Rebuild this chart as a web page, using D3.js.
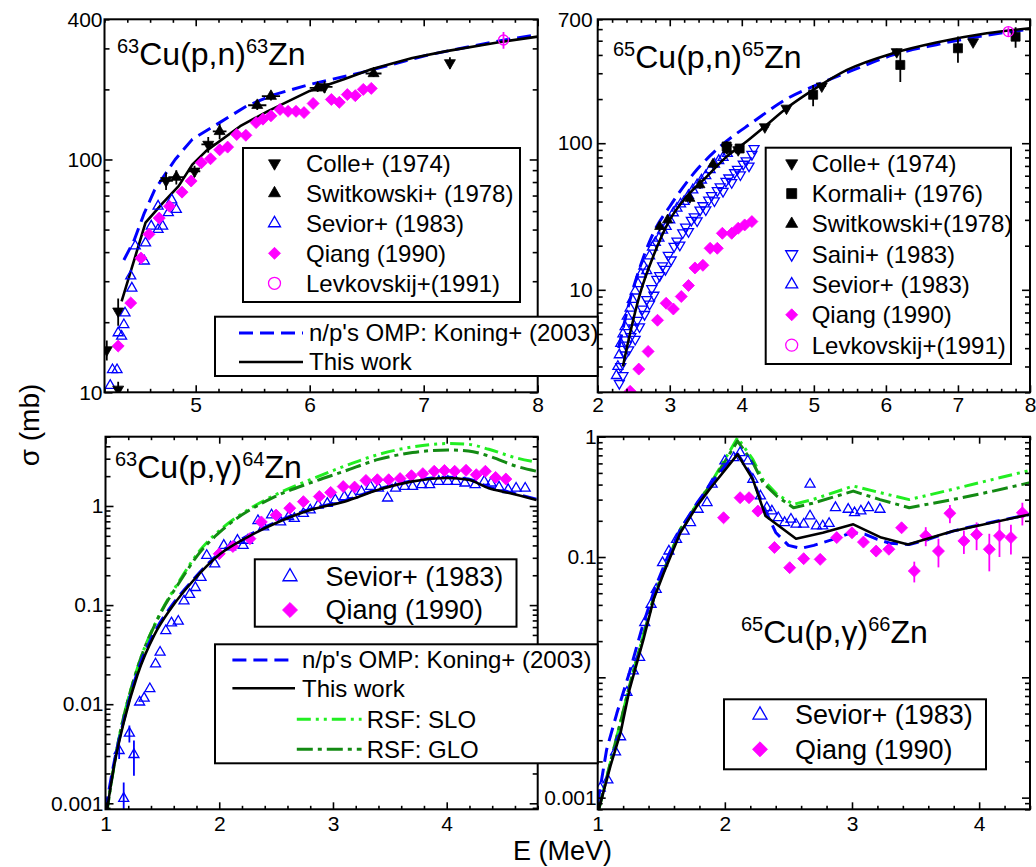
<!DOCTYPE html>
<html>
<head>
<meta charset="utf-8">
<script src="https://cdn.jsdelivr.net/npm/d3@7"></script>
<style>
  body { margin: 0; background: #fff; }
  svg { display: block; }
</style>
</head>
<body>
<div id="chart"></div>
<script>
// ---------- data: 63Cu(p,n)63Zn  [E (MeV), sigma (mb), dE, dSigma] ----------
const pn63ThisWork = [[4.35,24.6],[4.56,53.5],[4.71,65],[4.85,76.8],[4.97,95],[5.09,108.6],[5.39,139],[5.63,161],[6.0,197],[6.3,221],[6.54,244],[6.9,273],[7.2,292],[7.66,319],[8.0,337]];
const pn63Koning = [[4.37,37],[4.46,45],[4.55,59],[4.64,74],[4.82,100],[4.97,122],[5.21,144],[5.45,170],[5.69,190],[6.0,210],[6.45,236],[7.05,282],[7.66,323],[8.0,344]];
const pn63Colle = [[4.22,15.2,0.03,1.5],[4.32,22.3,0.03,3],[4.32,10.3,0.03,0.8],[4.74,81,0.06,7],[4.99,89,0.05,5],[5.11,116,0.06,9],[6.13,205,0.07,12],[7.23,260,0.02,15]];
const pn63Switkowski = [[4.83,84,0.07,6],[5.21,132,0.06,10],[5.54,171,0.08,8],[5.66,187,0.08,8],[6.07,203,0.07,8],[6.56,234,0.07,8]];
const pn63Sevior = [[4.25,10.7],[4.27,12.5],[4.31,12.5],[4.32,18],[4.35,17.4],[4.37,19.5],[4.38,21.9],[4.43,31.6],[4.44,28],[4.47,42.5],[4.55,36.6],[4.56,43.8],[4.61,51.7],[4.67,50],[4.67,63],[4.71,51.7],[4.76,59],[4.79,67],[4.83,61]];
const pn63Qiang = [[4.32,15.8],[4.43,24.2],[4.52,37.7],[4.59,47.7],[4.68,56],[4.77,63],[4.88,72.4],[4.96,80.8],[5.05,96.8],[5.13,100.7],[5.21,110],[5.28,113],[5.36,128],[5.44,127],[5.53,144],[5.59,149],[5.66,154],[5.74,164],[5.81,161],[5.88,161],[5.95,159],[6.03,174],[6.19,181],[6.26,176],[6.33,190],[6.40,188],[6.47,200],[6.54,202]];
const pn63Levkovskij = [[7.70,326,0,27]];

// ---------- data: 65Cu(p,n)65Zn ----------
const pn65ThisWork = [[2.35,3.0],[2.45,5.07],[2.59,9.5],[2.77,16.9],[3.0,30],[3.23,43],[3.51,59],[3.79,81],[4.07,103],[4.32,130],[4.62,173],[4.99,231],[5.46,316],[6.10,411],[6.70,486],[7.40,562],[8.0,608]];
const pn65Koning = [[2.29,4.0],[2.45,8.6],[2.59,14.4],[2.77,24.3],[3.0,37],[3.33,62],[3.70,95],[4.16,140],[4.62,200],[5.09,256],[5.55,316],[6.1,400],[6.7,470],[7.4,545],[8.0,600]];
const pn65Colle = [[3.79,93,0.03,8],[3.95,90,0.03,6],[4.32,129,0.05,6],[4.62,173,0.05,8],[5.11,245,0.06,12],[6.15,420,0.06,20],[7.21,490,0.03,25]];
const pn65Kormali = [[3.79,95,0,8],[3.97,92,0,6],[4.99,214,0.03,35],[6.20,342,0,80],[7.0,444,0,90],[7.80,533,0,85]];
const pn65Switkowski = [[2.86,27,0,2],[2.97,30,0,2],[3.28,42,0,3],[3.42,52,0,3],[3.60,72,0,4],[3.80,90,0,5]];
const pn65Saini = [[2.30,2.3],[2.32,3.0],[2.35,2.6],[2.38,3.6],[2.40,4.2],[2.43,3.9],[2.46,4.8],[2.50,5.5],[2.52,4.6],[2.55,6.2],[2.58,5.6],[2.62,7.4],[2.65,6.8],[2.68,8.6],[2.72,8.0],[2.75,10.2],[2.78,9.2],[2.82,11.8],[2.86,12.5],[2.90,14.6],[2.94,13.8],[2.98,17.2],[3.02,16.0],[3.06,19.8],[3.10,21.5],[3.14,20.2],[3.18,24.5],[3.22,26.8],[3.26,25.0],[3.30,29.8],[3.34,31.5],[3.38,29.6],[3.42,35.0],[3.46,37.5],[3.50,35.2],[3.54,41.0],[3.58,44.0],[3.62,40.5],[3.66,47.5],[3.70,50.5],[3.74,47.0],[3.78,55.0],[3.82,58.0],[3.86,54.0],[3.90,63.0],[3.94,66.5],[3.98,61.0],[4.02,72.0],[4.06,76.0],[4.10,70.0],[4.14,84.0],[4.17,92.0]];
const pn65Sevior = [[2.26,2.6],[2.28,3.0],[2.30,3.6],[2.32,4.3],[2.35,5.0],[2.38,5.6],[2.41,6.6],[2.45,7.5],[2.48,8.6],[2.52,9.8],[2.56,11.0],[2.60,12.8],[2.64,14.5],[2.68,13.5],[2.72,17.0],[2.76,19.5],[2.80,21.0],[2.85,22.5],[2.90,25.5],[2.95,27.0],[3.00,30.0],[3.05,33.5],[3.10,36.0],[3.15,38.5],[3.20,40.0],[3.26,44.0],[3.32,48.0],[3.38,52.0],[3.44,56.0],[3.50,60.0],[3.56,66.0],[3.62,72.0],[3.68,76.0],[3.74,80.0],[3.80,85.0]];
const pn65Qiang = [[2.45,2.03],[2.57,2.88],[2.70,3.8],[2.83,6.2],[2.95,8.1],[3.05,7.4],[3.16,9.0],[3.26,10.7],[3.35,14.1],[3.46,14.7],[3.56,19.2],[3.66,19.2],[3.73,24.3],[3.86,24.3],[3.95,26.3],[4.04,27.7],[4.14,29.2]];
const pn65Levkovskij = [[7.70,577,0,40]];

// ---------- data: 63Cu(p,g)64Zn ----------
const pg63ThisWork = [[1.01,0.0008],[1.07,0.0022],[1.16,0.0065],[1.28,0.0196],[1.43,0.05],[1.58,0.094],[1.77,0.176],[2.01,0.329],[2.25,0.486],[2.49,0.665],[2.80,0.91],[3.10,1.106],[3.40,1.456],[3.70,1.77],[4.01,1.915],[4.19,1.84],[4.37,1.51],[4.55,1.35],[4.79,1.15]];
const pg63Koning = [[1.0,0.00085],[1.07,0.0024],[1.16,0.0068],[1.28,0.021],[1.43,0.053],[1.58,0.098],[1.77,0.18],[2.01,0.34],[2.25,0.5],[2.49,0.68],[2.80,0.93],[3.10,1.13],[3.40,1.48],[3.70,1.8],[4.01,1.95],[4.19,1.87],[4.37,1.55],[4.55,1.38],[4.79,1.17]];
const pg63Slo = [[1.01,0.0008],[1.10,0.0035],[1.28,0.023],[1.46,0.074],[1.65,0.176],[1.83,0.356],[2.04,0.615],[2.25,0.91],[2.49,1.29],[2.80,1.84],[3.10,2.52],[3.40,3.31],[3.70,3.94],[4.01,4.26],[4.19,4.19],[4.37,3.73],[4.61,3.06],[4.79,2.77]];
const pg63Glo = [[1.01,0.0008],[1.10,0.0035],[1.28,0.023],[1.46,0.073],[1.65,0.17],[1.83,0.34],[2.04,0.59],[2.49,1.24],[2.80,1.71],[3.10,2.24],[3.40,2.95],[3.70,3.46],[4.01,3.67],[4.19,3.59],[4.37,3.19],[4.61,2.52],[4.79,2.24]];
const pg63Sevior = [[1.12,0.0034,0,0.0006],[1.16,0.00112,0,0.0005],[1.21,0.0051,0,0.001],[1.25,0.0031,0,0.0012],[1.30,0.0105],[1.34,0.0115],[1.39,0.0143],[1.44,0.0254],[1.48,0.0334],[1.53,0.055],[1.58,0.066],[1.64,0.0687],[1.69,0.11],[1.74,0.128],[1.79,0.15],[1.84,0.19],[1.89,0.316],[1.96,0.26],[2.04,0.4],[2.10,0.385],[2.16,0.45],[2.21,0.4],[2.25,0.45],[2.34,0.71],[2.39,0.615],[2.46,0.81],[2.54,0.69],[2.61,0.78],[2.66,0.748],[2.74,0.84],[2.80,0.91],[2.87,1.02],[2.95,1.06],[3.02,1.15],[3.10,1.24],[3.17,1.29],[3.25,1.40],[3.33,1.57],[3.40,1.51],[3.48,1.2],[3.55,1.51],[3.63,1.57],[3.70,1.57],[3.78,1.64],[3.85,1.64],[3.93,1.77],[4.01,1.77],[4.08,1.77],[4.16,1.70],[4.25,1.64],[4.33,1.77],[4.39,1.70],[4.46,1.55],[4.54,1.46],[4.61,1.51],[4.69,1.51]];
const pg63Qiang = [[2.0,0.329],[2.12,0.39],[2.27,0.468],[2.37,0.69],[2.50,0.81],[2.62,0.95],[2.74,1.106],[2.88,1.245],[2.98,1.37],[3.09,1.57],[3.19,1.55],[3.29,1.81],[3.39,1.84],[3.49,1.84],[3.59,1.89],[3.69,2.02],[3.79,2.12],[3.89,2.24],[3.98,2.28],[4.07,2.24],[4.17,2.29],[4.26,2.07],[4.34,2.24],[4.43,1.94],[4.52,1.87]];

// ---------- data: 65Cu(p,g)66Zn ----------
const pg65ThisWork = [[1.01,0.00081],[1.10,0.00183],[1.18,0.00347],[1.25,0.0079],[1.36,0.0207],[1.44,0.0445],[1.52,0.074],[1.65,0.159],[1.78,0.265],[1.90,0.389],[2.10,0.713],[2.22,0.442],[2.32,0.219],[2.56,0.142],[2.77,0.159],[3.01,0.187],[3.23,0.145],[3.44,0.127],[3.79,0.164],[4.40,0.226]];
const pg65Koning = [[1.0,0.0009],[1.07,0.0025],[1.15,0.005],[1.25,0.011],[1.35,0.026],[1.45,0.055],[1.55,0.1],[1.65,0.17],[1.78,0.28],[1.90,0.42],[2.05,0.66],[2.10,0.72],[2.20,0.5],[2.30,0.27],[2.40,0.16],[2.50,0.125],[2.60,0.118],[2.70,0.125],[2.85,0.14],[3.0,0.16],[3.1,0.155],[3.2,0.14],[3.3,0.13],[3.45,0.127],[3.6,0.14],[3.8,0.165],[4.0,0.185],[4.2,0.205],[4.4,0.226]];
const pg65Slo = [[1.01,0.00081],[1.25,0.0085],[1.45,0.05],[1.65,0.17],[1.90,0.428],[2.10,0.98],[2.22,0.648],[2.30,0.44],[2.41,0.332],[2.54,0.274],[2.69,0.3],[3.01,0.389],[3.22,0.343],[3.45,0.3],[3.79,0.365],[4.11,0.442],[4.40,0.525]];
const pg65Glo = [[1.01,0.00081],[1.25,0.0085],[1.45,0.05],[1.65,0.17],[1.90,0.42],[2.10,0.92],[2.22,0.61],[2.30,0.415],[2.41,0.32],[2.54,0.257],[2.69,0.28],[3.01,0.353],[3.22,0.3],[3.45,0.257],[3.79,0.3],[4.11,0.353],[4.40,0.415]];
const pg65Sevior = [[1.02,0.0012],[1.08,0.0014],[1.14,0.0024],[1.18,0.0032],[1.23,0.0075],[1.28,0.0113],[1.33,0.0146],[1.37,0.0285],[1.42,0.0404],[1.46,0.0538],[1.51,0.0897],[1.56,0.112],[1.62,0.14],[1.68,0.164],[1.73,0.193],[1.79,0.249],[1.86,0.283],[1.90,0.402],[2.0,0.628],[2.07,0.668],[2.12,0.736],[2.18,0.628],[2.22,0.442],[2.28,0.321],[2.33,0.257],[2.37,0.241],[2.42,0.212],[2.47,0.193],[2.52,0.206],[2.56,0.187],[2.62,0.187],[2.67,0.402],[2.67,0.219],[2.72,0.181],[2.77,0.181],[2.82,0.19],[2.87,0.257],[2.97,0.249],[3.02,0.233],[3.07,0.241],[3.13,0.257],[3.22,0.249]];
const pg65Qiang = [[1.99,0.212],[2.12,0.311],[2.19,0.311],[2.26,0.241],[2.39,0.12],[2.51,0.0815],[2.62,0.0969],[2.75,0.0956],[2.88,0.145],[3.0,0.159],[3.09,0.133],[3.19,0.112],[3.29,0.116],[3.39,0.175],[3.49,0.0765,0,0.015],[3.58,0.15,0,0.027],[3.68,0.112,0,0.03],[3.77,0.231,0,0.04],[3.88,0.136,0,0.03],[3.98,0.154,0,0.04],[4.08,0.116,0,0.04],[4.16,0.15,0,0.05],[4.25,0.145,0,0.04],[4.34,0.233,0,0.05]];

// ---------- labels ----------
const tlLegend1 = ["Colle+ (1974)", "Switkowski+ (1978)", "Sevior+ (1983)", "Qiang (1990)", "Levkovskij+(1991)"];
const trLegend = ["Colle+ (1974)", "Kormali+ (1976)", "Switkowski+(1978)", "Saini+ (1983)", "Sevior+ (1983)", "Qiang (1990)", "Levkovskij+(1991)"];
const expLegendBottom = ["Sevior+ (1983)", "Qiang (1990)"];
const modelLegend = ["n/p's OMP: Koning+ (2003)", "This work", "RSF: SLO", "RSF: GLO"];
const tlYLabels = [10, 100, 400];
const trYLabels = [10, 100, 700];
const blYLabels = [0.001, 0.01, 0.1, 1];
const brYLabels = [0.001, 0.1, 1];

// ---------- layout ----------
const WIDTH = 1036;
const HEIGHT = 867;
const FONT = "'Liberation Sans', Arial, sans-serif";

const PANELS = {
  tl: { id: "tl", left: 104.5, right: 537.7, top: 19.3, bottom: 392.3, xDomain: [4.2, 8], yDomain: [10, 400], yPad: 2, xPad: 5, curve: d3.curveLinear },
  tr: { id: "tr", left: 597.7, right: 1030, top: 19.3, bottom: 392.3, xDomain: [2, 8], yDomain: [2, 700], yPad: 5, xPad: 5, curve: d3.curveMonotoneX },
  bl: { id: "bl", left: 105.5, right: 537.7, top: 436.7, bottom: 809.3, xDomain: [1, 4.8], yDomain: [0.00087, 5], yPad: 2, xPad: 7, curve: d3.curveMonotoneX },
  br: { id: "br", left: 597.7, right: 1030, top: 436.7, bottom: 809.3, xDomain: [1, 4.4], yDomain: [0.0008, 1], yPad: 1, xPad: 7, curve: d3.curveLinear },
};

const STYLE = {
  colle: { shape: "triDown", fill: "#000", stroke: "#000" },
  switk: { shape: "triUp", fill: "#000", stroke: "#000" },
  kormali: { shape: "square", fill: "#000", stroke: "#000" },
  saini: { shape: "triDown", fill: "none", stroke: "#0000ff" },
  sevior: { shape: "triUp", fill: "none", stroke: "#0000ff" },
  qiang: { shape: "diamond", fill: "#ff00ff", stroke: "#ff00ff" },
  levk: { shape: "circle", fill: "none", stroke: "#ff00ff" },
};

const LINES = {
  thisWork: { color: "#000", width: 2.6, dash: null },
  koning: { color: "#0000ff", width: 3, dash: "14,7" },
  slo: { color: "#22ee22", width: 3, dash: "14,5,3,5,3,5" },
  glo: { color: "#138a13", width: 3, dash: "16,5,4,5" },
};

const svg = d3.select("#chart").append("svg")
  .attr("width", WIDTH)
  .attr("height", HEIGHT)
  .style("font-family", FONT);

function makePanel(cfg) {
  const x = d3.scaleLinear().domain(cfg.xDomain).range([cfg.left, cfg.right]);
  const y = d3.scaleLog().domain(cfg.yDomain).range([cfg.bottom, cfg.top]);
  const g = svg.append("g").attr("class", "panel-" + cfg.id);
  g.append("clipPath").attr("id", "clip-" + cfg.id)
    .append("rect")
    .attr("x", cfg.left).attr("y", cfg.top)
    .attr("width", cfg.right - cfg.left).attr("height", cfg.bottom - cfg.top);
  const plot = g.append("g").attr("clip-path", `url(#clip-${cfg.id})`);
  return { cfg, x, y, g, plot };
}

function markerPath(shape, s) {
  if (shape === "triUp" || shape === "triDown") return d3.symbol(d3.symbolTriangle, (s * s * Math.sqrt(3)) / 4)();
  if (shape === "square") return d3.symbol(d3.symbolSquare, s * s)();
  if (shape === "diamond") return d3.symbol(d3.symbolSquare, (s * s) / 2)();
  return d3.symbol(d3.symbolCircle, (Math.PI * s * s) / 4)();
}

function markerRotation(shape) {
  if (shape === "triDown") return 180;
  if (shape === "diamond") return 45;
  return 0;
}

function drawCurve(p, data, key) {
  const st = LINES[key];
  p.plot.append("path")
    .datum(data)
    .attr("fill", "none")
    .attr("stroke", st.color)
    .attr("stroke-width", st.width)
    .attr("stroke-dasharray", st.dash)
    .attr("stroke-linejoin", "round")
    .attr("d", d3.line().curve(p.cfg.curve).x((d) => p.x(d[0])).y((d) => p.y(d[1])));
}

function drawPoints(p, data, key, size) {
  const st = STYLE[key];
  const gg = p.plot.append("g");
  // error bars first
  gg.selectAll("line.ey")
    .data(data.filter((d) => d[3] > 0))
    .join("line")
    .attr("x1", (d) => p.x(d[0]))
    .attr("x2", (d) => p.x(d[0]))
    .attr("y1", (d) => p.y(Math.max(d[1] - d[3], 1e-6)))
    .attr("y2", (d) => p.y(d[1] + d[3]))
    .attr("stroke", st.stroke)
    .attr("stroke-width", 1.8);
  gg.selectAll("line.ex")
    .data(data.filter((d) => d[2] > 0))
    .join("line")
    .attr("x1", (d) => p.x(d[0] - d[2]))
    .attr("x2", (d) => p.x(d[0] + d[2]))
    .attr("y1", (d) => p.y(d[1]))
    .attr("y2", (d) => p.y(d[1]))
    .attr("stroke", st.stroke)
    .attr("stroke-width", 1.8);
  gg.selectAll("path")
    .data(data)
    .join("path")
    .attr("d", markerPath(st.shape, size))
    .attr("transform", (d) => `translate(${p.x(d[0])},${p.y(d[1])}) rotate(${markerRotation(st.shape)})`)
    .attr("fill", st.fill)
    .attr("stroke", st.stroke)
    .attr("stroke-width", st.fill === "none" ? 1.3 : 0.8);
}

function styleAxis(sel) {
  sel.select(".domain").remove();
  sel.selectAll(".tick line").attr("stroke", "#000").attr("stroke-width", 1.6);
  sel.selectAll(".tick text")
    .attr("font-size", 21)
    .attr("font-family", FONT)
    .attr("fill", "#000");
}

function drawAxes(p, yLabels) {
  const { cfg, x, y, g } = p;
  const fifths = d3.range(Math.ceil(cfg.xDomain[0] * 5 - 1e-9), Math.floor(cfg.xDomain[1] * 5 + 1e-9) + 1).map((i) => i / 5);
  const xMajor = fifths.filter((v) => Math.abs(v - Math.round(v)) < 1e-9);
  const xMinor = fifths.filter((v) => Math.abs(v - Math.round(v)) >= 1e-9);
  const isDecade = (v) => Math.abs(Math.log10(v) - Math.round(Math.log10(v))) < 1e-9;
  const yMajor = y.ticks().filter(isDecade);
  const yMinor = y.ticks().filter((v) => !isDecade(v));

  const axes = g.append("g");
  // bottom
  axes.append("g").attr("transform", `translate(0,${cfg.bottom})`)
    .call(d3.axisBottom(x).tickValues(xMajor).tickSize(-7).tickSizeOuter(0).tickPadding(cfg.xPad).tickFormat(d3.format("d")))
    .call(styleAxis);
  axes.append("g").attr("transform", `translate(0,${cfg.bottom})`)
    .call(d3.axisBottom(x).tickValues(xMinor).tickSize(-3.5).tickSizeOuter(0).tickFormat(""))
    .call(styleAxis);
  // top (mirror)
  axes.append("g").attr("transform", `translate(0,${cfg.top})`)
    .call(d3.axisTop(x).tickValues(xMajor).tickSize(-7).tickSizeOuter(0).tickFormat(""))
    .call(styleAxis);
  axes.append("g").attr("transform", `translate(0,${cfg.top})`)
    .call(d3.axisTop(x).tickValues(xMinor).tickSize(-3.5).tickSizeOuter(0).tickFormat(""))
    .call(styleAxis);
  // left
  axes.append("g").attr("transform", `translate(${cfg.left},0)`)
    .call(d3.axisLeft(y).tickValues(yMajor).tickSize(-8).tickSizeOuter(0).tickFormat(""))
    .call(styleAxis);
  axes.append("g").attr("transform", `translate(${cfg.left},0)`)
    .call(d3.axisLeft(y).tickValues(yMinor).tickSize(-5).tickSizeOuter(0).tickFormat(""))
    .call(styleAxis);
  axes.append("g").attr("transform", `translate(${cfg.left},0)`)
    .call(d3.axisLeft(y).tickValues(yLabels).tickSize(0).tickSizeOuter(0).tickPadding(cfg.yPad).tickFormat((d) => String(d)))
    .call(styleAxis);
  // right (mirror)
  axes.append("g").attr("transform", `translate(${cfg.right},0)`)
    .call(d3.axisRight(y).tickValues(yMajor).tickSize(-8).tickSizeOuter(0).tickFormat(""))
    .call(styleAxis);
  axes.append("g").attr("transform", `translate(${cfg.right},0)`)
    .call(d3.axisRight(y).tickValues(yMinor).tickSize(-5).tickSizeOuter(0).tickFormat(""))
    .call(styleAxis);

  // frame
  g.append("rect")
    .attr("x", cfg.left).attr("y", cfg.top)
    .attr("width", cfg.right - cfg.left).attr("height", cfg.bottom - cfg.top)
    .attr("fill", "none").attr("stroke", "#000").attr("stroke-width", 2);
}

function drawTitle(x, y, parts) {
  const t = svg.append("text")
    .attr("x", x).attr("y", y)
    .attr("font-size", 32)
    .attr("fill", "#000");
  let raised = false;
  parts.forEach(([str, sup]) => {
    const ts = t.append("tspan").text(str);
    if (sup && !raised) { ts.attr("font-size", 20).attr("dy", -12); raised = true; }
    else if (!sup && raised) { ts.attr("dy", 12); raised = false; }
  });
}

function legendBox(x0, y0, x1, y1) {
  const g = svg.append("g");
  g.append("rect")
    .attr("x", x0).attr("y", y0)
    .attr("width", x1 - x0).attr("height", y1 - y0)
    .attr("fill", "#fff").attr("stroke", "#000").attr("stroke-width", 2);
  return g;
}

function legendMarker(g, key, cx, cy, size) {
  const st = STYLE[key];
  g.append("path")
    .attr("d", markerPath(st.shape, size))
    .attr("transform", `translate(${cx},${cy}) rotate(${markerRotation(st.shape)})`)
    .attr("fill", st.fill)
    .attr("stroke", st.stroke)
    .attr("stroke-width", st.fill === "none" ? 1.3 : 0.8);
}

function legendLine(g, key, x0, x1, cy) {
  const st = LINES[key];
  g.append("line")
    .attr("x1", x0).attr("x2", x1).attr("y1", cy).attr("y2", cy)
    .attr("stroke", st.color).attr("stroke-width", st.width)
    .attr("stroke-dasharray", st.dash);
}

function legendText(g, str, x, cy, size) {
  g.append("text")
    .attr("x", x).attr("y", cy)
    .attr("dy", "0.35em")
    .attr("font-size", size)
    .attr("fill", "#000")
    .text(str);
}

// ---------- panel: 63Cu(p,n)63Zn ----------
const tl = makePanel(PANELS.tl);
drawCurve(tl, pn63Koning, "koning");
drawCurve(tl, pn63ThisWork, "thisWork");
drawPoints(tl, pn63Sevior, "sevior", 10);
drawPoints(tl, pn63Qiang, "qiang", 12);
drawPoints(tl, pn63Colle, "colle", 11);
drawPoints(tl, pn63Switkowski, "switk", 11);
drawPoints(tl, pn63Levkovskij, "levk", 10);
drawAxes(tl, tlYLabels);

// ---------- panel: 65Cu(p,n)65Zn ----------
const tr = makePanel(PANELS.tr);
drawPoints(tr, pn65Saini, "saini", 10);
drawPoints(tr, pn65Sevior, "sevior", 10);
drawCurve(tr, pn65Koning, "koning");
drawCurve(tr, pn65ThisWork, "thisWork");
drawPoints(tr, pn65Qiang, "qiang", 12);
drawPoints(tr, pn65Switkowski, "switk", 10);
drawPoints(tr, pn65Colle, "colle", 11);
drawPoints(tr, pn65Kormali, "kormali", 9);
drawPoints(tr, pn65Levkovskij, "levk", 10);
drawAxes(tr, trYLabels);

// ---------- panel: 63Cu(p,g)64Zn ----------
const bl = makePanel(PANELS.bl);
drawCurve(bl, pg63Slo, "slo");
drawCurve(bl, pg63Glo, "glo");
drawCurve(bl, pg63Koning, "koning");
drawPoints(bl, pg63Sevior, "sevior", 10);
drawPoints(bl, pg63Qiang, "qiang", 12);
drawCurve(bl, pg63ThisWork, "thisWork");
drawAxes(bl, blYLabels);

// ---------- panel: 65Cu(p,g)66Zn ----------
const br = makePanel(PANELS.br);
drawCurve(br, pg65Slo, "slo");
drawCurve(br, pg65Glo, "glo");
drawCurve(br, pg65Koning, "koning");
drawPoints(br, pg65Sevior, "sevior", 10);
drawPoints(br, pg65Qiang, "qiang", 12);
drawCurve(br, pg65ThisWork, "thisWork");
drawAxes(br, brYLabels);

// ---------- titles ----------
drawTitle(117, 65, [["63", true], ["Cu(p,n)", false], ["63", true], ["Zn", false]]);
drawTitle(613, 68, [["65", true], ["Cu(p,n)", false], ["65", true], ["Zn", false]]);
drawTitle(115, 478, [["63", true], ["Cu(p,γ)", false], ["64", true], ["Zn", false]]);
drawTitle(741, 643, [["65", true], ["Cu(p,γ)", false], ["66", true], ["Zn", false]]);

// ---------- legends ----------
const tlKeys = ["colle", "switk", "sevior", "qiang", "levk"];
let lg = legendBox(243, 148, 520, 302);
tlLegend1.forEach((s, i) => {
  const cy = 163.3 + i * 30;
  legendMarker(lg, tlKeys[i], 274.5, cy, 12);
  legendText(lg, s, 306, cy, 24);
});

lg = legendBox(215, 316.7, 597.7, 376);
legendLine(lg, "koning", 239, 303, 333);
legendText(lg, modelLegend[0], 309, 333, 24);
legendLine(lg, "thisWork", 239, 303, 362);
legendText(lg, modelLegend[1], 309, 362, 24);

const trKeys = ["colle", "kormali", "switk", "saini", "sevior", "qiang", "levk"];
lg = legendBox(765.7, 147.7, 1011, 364);
trLegend.forEach((s, i) => {
  const cy = 163.3 + i * 30.3;
  legendMarker(lg, trKeys[i], 791.7, cy, trKeys[i] === "kormali" ? 10 : 12);
  legendText(lg, s, 811.7, cy, 24);
});

lg = legendBox(254.8, 559.3, 516.5, 626.7);
legendMarker(lg, "sevior", 290, 576.7, 14);
legendText(lg, expLegendBottom[0], 325.4, 576.7, 27);
legendMarker(lg, "qiang", 290, 610, 15);
legendText(lg, expLegendBottom[1], 325.4, 610, 27);

lg = legendBox(215, 644.3, 597.7, 763.3);
legendLine(lg, "koning", 232.4, 292.7, 660);
legendText(lg, modelLegend[0], 302, 660, 24);
legendLine(lg, "thisWork", 232.4, 295, 688.3);
legendText(lg, modelLegend[1], 302, 688.3, 24);
legendLine(lg, "slo", 296.8, 361.6, 719.3);
legendText(lg, modelLegend[2], 366.7, 719.3, 24);
legendLine(lg, "glo", 296.8, 361.6, 749.3);
legendText(lg, modelLegend[3], 366.7, 749.3, 24);

lg = legendBox(724, 699.3, 986, 769.3);
legendMarker(lg, "sevior", 760, 715, 14);
legendText(lg, expLegendBottom[0], 795, 715, 27);
legendMarker(lg, "qiang", 760, 749.3, 15);
legendText(lg, expLegendBottom[1], 795, 749.3, 27);

// ---------- axis titles ----------
svg.append("text")
  .attr("transform", "translate(39,425) rotate(-90)")
  .attr("text-anchor", "middle")
  .attr("font-size", 28)
  .attr("fill", "#000")
  .text("σ (mb)");

svg.append("text")
  .attr("x", 513).attr("y", 860)
  .attr("font-size", 27)
  .attr("fill", "#000")
  .text("E (MeV)");
</script>
</body>
</html>
